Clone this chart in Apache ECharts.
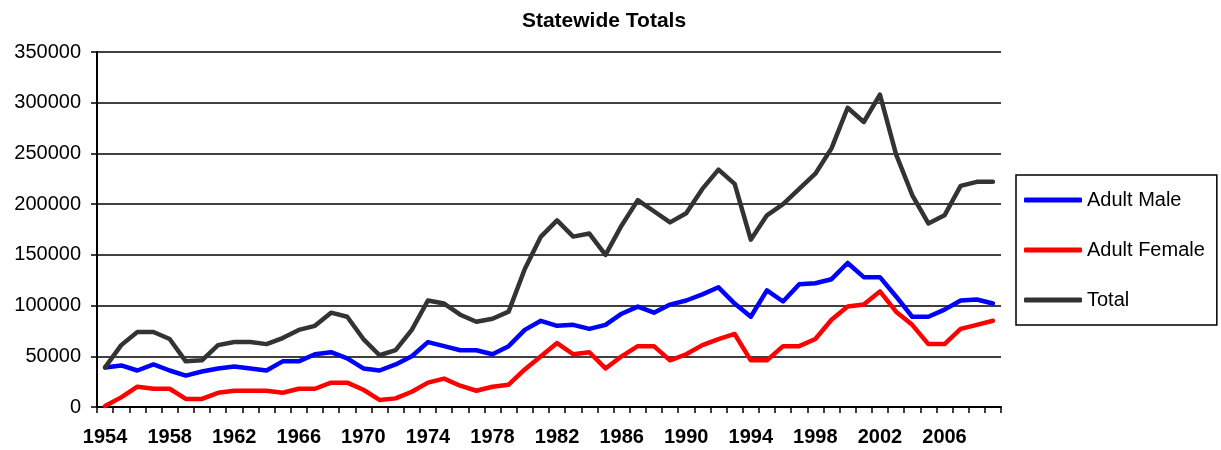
<!DOCTYPE html>
<html>
<head>
<meta charset="utf-8">
<script src="https://cdn.jsdelivr.net/npm/echarts@6/dist/echarts.min.js"></script>
<style>
  html, body { margin: 0; padding: 0; background: #fff; }
  #chart { width: 1221px; height: 450px; }
</style>
</head>
<body>
<div id="chart"></div>
<script>
// years on the category axis
const years = [
  '1954', '1955', '1956', '1957', '1958', '1959', '1960', '1961', '1962', '1963',
  '1964', '1965', '1966', '1967', '1968', '1969', '1970', '1971', '1972', '1973',
  '1974', '1975', '1976', '1977', '1978', '1979', '1980', '1981', '1982', '1983',
  '1984', '1985', '1986', '1987', '1988', '1989', '1990', '1991', '1992', '1993',
  '1994', '1995', '1996', '1997', '1998', '1999', '2000', '2001', '2002', '2003',
  '2004', '2005', '2006', '2007', '2008', '2009'
]

// Adult Male
const adultMale = [
  39000, 41000, 36000, 42000, 36000, 31000, 35000, 38000, 40000, 38000,
  36000, 45000, 45000, 52000, 54000, 48000, 38000, 36000, 42000, 50000,
  64000, 60000, 56000, 56000, 52000, 60000, 76000, 85000, 80000, 81000,
  77000, 81000, 92000, 99000, 93000, 101000, 105000, 111000, 118000, 102000,
  89000, 115000, 104000, 121000, 122000, 126000, 142000, 128000, 128000, 109000,
  89000, 89000, 96000, 105000, 106000, 102000
]

// Adult Female
const adultFemale = [
  1000, 9500, 20000, 18000, 18000, 8000, 8000, 14000, 16000, 16000,
  16000, 14000, 18000, 18000, 24000, 24000, 17000, 7000, 8500, 15000,
  24000, 28000, 21000, 16000, 20000, 22000, 37000, 50000, 63000, 52000,
  54000, 38000, 50000, 60000, 60000, 46000, 52000, 61000, 67000, 72000,
  46000, 46000, 60000, 60000, 67000, 86000, 99000, 101000, 114000, 94000,
  81000, 62000, 62000, 77000, 81000, 85000
]

// Total
const total = [
  39000, 61000, 74000, 74000, 67000, 45000, 46000, 61000, 64000, 64000,
  62000, 68000, 76000, 80000, 93000, 89000, 67000, 51000, 56000, 76000,
  105000, 102000, 91000, 84000, 87000, 94000, 136000, 168000, 184000, 168000,
  171000, 150000, 179000, 204000, 193000, 182000, 191000, 215000, 234000, 220000,
  165000, 189000, 200000, 215000, 230000, 255000, 295000, 281000, 308000, 249000,
  209000, 181000, 189000, 218000, 222000, 222000
]

const chart = echarts.init(document.getElementById('chart'))

const lineSeries = (name, data, color) => ({
  name: name,
  type: 'line',
  data: data,
  symbol: 'none',
  smooth: false,
  lineStyle: { width: 4.5, color: color, cap: 'round', join: 'round' },
  itemStyle: { color: color }
})

chart.setOption({
  animation: false,
  textStyle: { fontFamily: 'Liberation Sans, Arial, sans-serif' },
  title: {
    text: 'Statewide Totals',
    left: 599,
    textAlign: 'center',
    top: 6,
    textStyle: { fontSize: 21, fontWeight: 'bold', color: '#000' }
  },
  legend: {
    orient: 'vertical',
    left: 1016,
    top: 175,
    padding: [15, 12, 15, 8],
    itemGap: 30,
    itemWidth: 58,
    itemHeight: 5,
    icon: 'roundRect',
    borderColor: '#000',
    borderWidth: 1.5,
    textStyle: { fontSize: 20, color: '#000' },
    data: ['Adult Male', 'Adult Female', 'Total']
  },
  grid: { left: 97, right: 220, top: 52, bottom: 43 },
  xAxis: {
    type: 'category',
    data: years,
    boundaryGap: true,
    axisLine: { lineStyle: { color: '#000', width: 2 } },
    axisTick: { show: true, interval: 0, length: 6, lineStyle: { color: '#000', width: 1.5 } },
    axisLabel: {
      interval: 3,
      margin: 20,
      fontSize: 20,
      fontWeight: 'bold',
      color: '#000'
    },
    splitLine: { show: false }
  },
  yAxis: {
    type: 'value',
    min: 0,
    max: 350000,
    interval: 50000,
    axisLine: { show: true, lineStyle: { color: '#000', width: 2 } },
    axisTick: { show: true, length: 6, lineStyle: { color: '#000', width: 1.5 } },
    axisLabel: { fontSize: 20, color: '#000', margin: 16, formatter: v => String(v) },
    splitLine: { lineStyle: { color: '#000', width: 1.5 } }
  },
  series: [
    lineSeries('Adult Male', adultMale, '#0000ff'),
    lineSeries('Adult Female', adultFemale, '#ff0000'),
    lineSeries('Total', total, '#333333')
  ]
})
</script>
</body>
</html>
